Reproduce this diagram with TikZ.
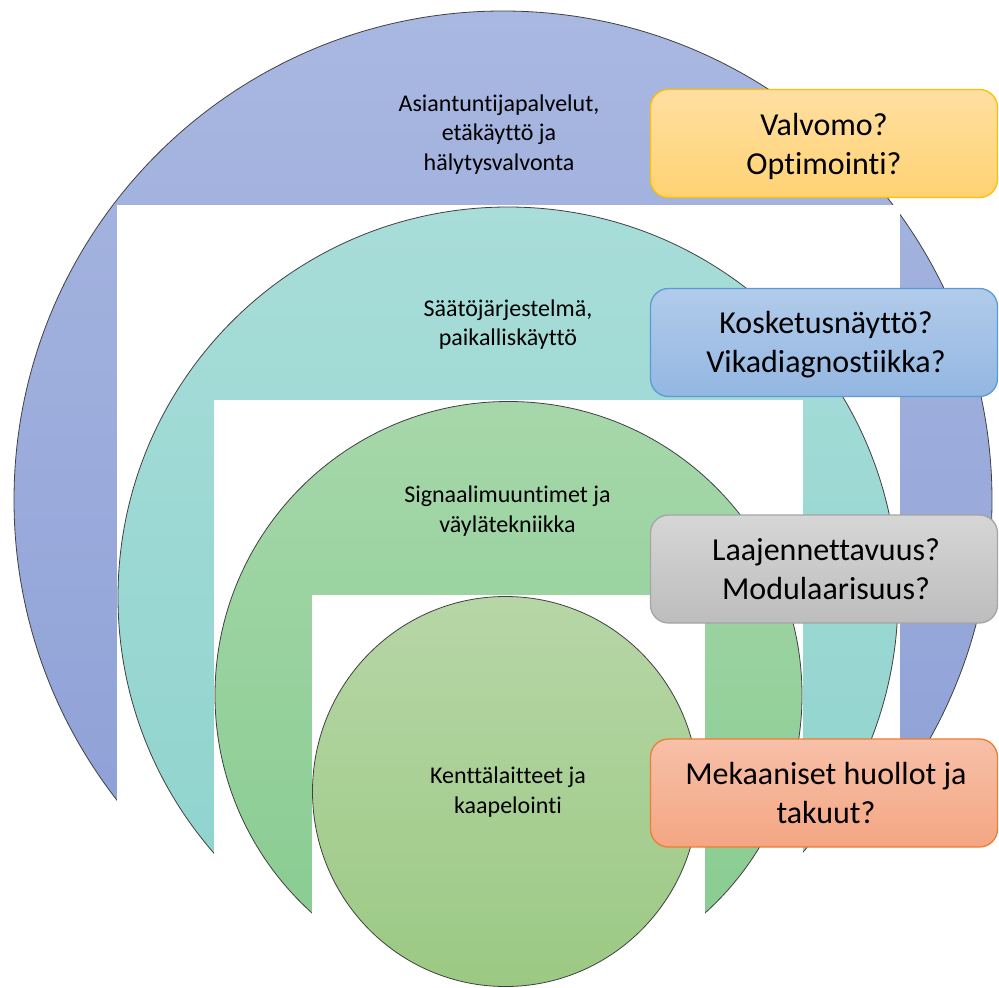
\documentclass[tikz,border=0pt]{standalone}
\usepackage{fontspec}
\setmainfont{Carlito}[Ligatures={NoCommon,NoContextual},Contextuals={NoAlternate}]
\definecolor{purpTop}{HTML}{A9B8E1}
\definecolor{purpBot}{HTML}{8A9CD5}
\definecolor{tealTop}{HTML}{A8DDD9}
\definecolor{tealBot}{HTML}{8CD2CC}
\definecolor{grnTop}{HTML}{A6D7AA}
\definecolor{grnBot}{HTML}{86CB8F}
\definecolor{lgTop}{HTML}{B7D6A7}
\definecolor{lgBot}{HTML}{9BC983}
\definecolor{orTop}{HTML}{FFDFA1}
\definecolor{orBot}{HTML}{FFD273}
\definecolor{orLine}{HTML}{FFC000}
\definecolor{blTop}{HTML}{B1CBEA}
\definecolor{blBot}{HTML}{93B7E2}
\definecolor{blLine}{HTML}{5B9BD5}
\definecolor{gyTop}{HTML}{D6D6D6}
\definecolor{gyBot}{HTML}{BDBDBD}
\definecolor{gyLine}{HTML}{A5A5A5}
\definecolor{saTop}{HTML}{F7C0A8}
\definecolor{saBot}{HTML}{F4A683}
\definecolor{saLine}{HTML}{ED7D31}
\begin{document}
\begin{tikzpicture}[x=1pt,y=-1pt,
  ring/.style={draw=black!75, line width=0.8pt},
  cutout/.style={fill=white, draw=none},
  lbl/.style={font=\fontsize{24}{29.5}\selectfont, align=center, inner sep=0pt, text=black},
  qbox/.style={rounded corners=18pt, line width=1.3pt, minimum width=347pt, minimum height=108pt, inner sep=0pt},
  qtxt/.style={font=\fontsize{32}{39}\selectfont, align=center, inner sep=0pt, text=black},
]
\useasboundingbox (0,0) rectangle (999,988);
% outer ring
\path[ring, top color=purpTop, bottom color=purpBot] (503,500) circle[radius=489];
\path[cutout] (117,205) rectangle (900,995);
% second ring
\path[ring, top color=tealTop, bottom color=tealBot] (508,597) circle[radius=390];
\path[cutout] (214,400) rectangle (803,995);
% third ring
\path[ring, top color=grnTop, bottom color=grnBot] (508.5,695) circle[radius=293.5];
\path[cutout] (312,595) rectangle (705,995);
% inner circle
\path[ring, top color=lgTop, bottom color=lgBot] (505.5,791.5) ellipse[x radius=193, y radius=195];
% labels
\node[lbl] (l1) at (499,134.6) {\strut Asiantuntijapalvelut,\\\strut etäkäyttö ja\\\strut hälytysvalvonta};
\node[lbl] (l2) at (508,325) {\strut Säätöjärjestelmä,\\\strut paikalliskäyttö};
\node[lbl] (l3) at (507.5,511.4) {\strut Signaalimuuntimet ja\\\strut väylätekniikka};
\node[lbl] (l4) at (508,792.6) {\strut Kenttälaitteet ja\\\strut kaapelointi};
% question boxes
\node[qbox, draw=orLine, top color=orTop, bottom color=orBot] (b1) at (824,143.5) {};
\node[qtxt] (t1) at (824,147.2) {\strut Valvomo?\\\strut Optimointi?};
\node[qbox, draw=blLine, top color=blTop, bottom color=blBot] (b2) at (824,342.5) {};
\node[qtxt] (t2) at (826,345.2) {\strut Kosketusnäyttö?\\\strut Vikadiagnostiikka?};
\node[qbox, draw=gyLine, top color=gyTop, bottom color=gyBot] (b3) at (824,569) {};
\node[qtxt] (t3) at (826,572.2) {\strut Laajennettavuus?\\\strut Modulaarisuus?};
\node[qbox, draw=saLine, top color=saTop, bottom color=saBot] (b4) at (824,793) {};
\node[qtxt] (t4) at (826,796.2) {\strut Mekaaniset huollot ja\\\strut takuut?};
\end{tikzpicture}
\end{document}
